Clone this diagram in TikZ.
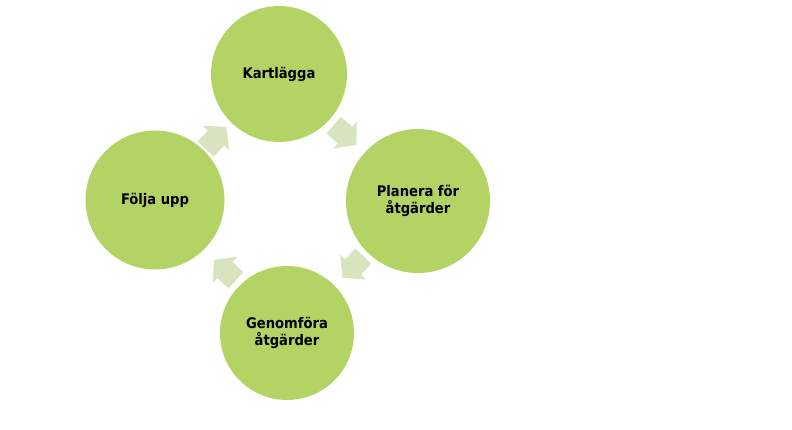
\documentclass[tikz,border=0pt]{standalone}
\usepackage{fontspec}
\newfontfamily\labelfont{DejaVu Sans Condensed}[BoldFont={* Bold}]
\definecolor{circgreen}{HTML}{B3D465}
\definecolor{arrgreen}{HTML}{D7E4BD}
\tikzset{
  stage/.style={circle, fill=circgreen, draw=none, inner sep=0pt, align=center,
    font=\labelfont\bfseries\fontsize{14.6}{17}\selectfont, text=black},
  cyclearrow/.pic={\fill[arrgreen] (-15,-11) -- (0,-11) -- (0,-18) -- (15,0) -- (0,18) -- (0,11) -- (-15,11) -- cycle;}
}
\begin{document}
\begin{tikzpicture}[x=1pt,y=1pt]
\useasboundingbox (0,0) rectangle (792,-430);
\node[stage, minimum size=136pt] (kart) at (279,-74) {Kartlägga};
\node[stage, minimum size=144pt] (plan) at (418,-201) {Planera för\\åtgärder};
\node[stage, minimum size=134pt] (genom) at (287,-333) {Genomföra\\åtgärder};
\node[stage, minimum size=139pt] (folj) at (155,-200) {Följa upp};
\pic[rotate=47] at (216,-138) {cyclearrow};
\pic[rotate=-41] at (345,-135) {cyclearrow};
\pic[rotate=-134] at (353,-267) {cyclearrow};
\pic[rotate=137] at (225,-270) {cyclearrow};
\end{tikzpicture}
\end{document}
